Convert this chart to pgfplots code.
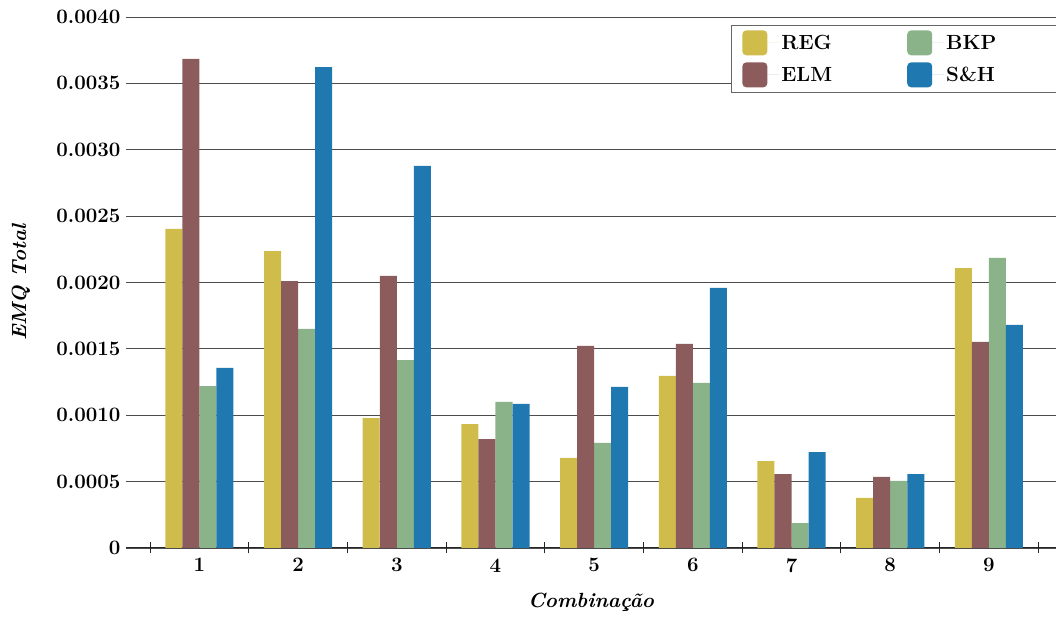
\documentclass[border=0pt]{standalone}
\usepackage{fontspec}
\usepackage{pgfplots}
\pgfplotsset{compat=1.18}
\definecolor{cREG}{RGB}{207,188,74}
\definecolor{cELM}{RGB}{140,91,91}
\definecolor{cBKP}{RGB}{138,179,138}
\definecolor{cSH}{RGB}{31,120,176}
\newcommand\ff{\fontsize{20.5}{24}\selectfont\bfseries}
\pgfplotsset{mylegend/.style={legend image code/.code={\fill[##1, rounded corners=4pt] (0pt,-12.5pt) rectangle (25pt,12.5pt); \path (0pt,0pt) -- (37pt,0pt);}}}
\begin{document}
\begin{tikzpicture}
\begin{axis}[
  name=ax, scale only axis, width=930pt, height=531pt,
  xmin=0.256, xmax=9.68, ymin=0, ymax=0.004,
  ybar, bar width=0.1726,
  axis x line=bottom, axis y line=left,
  axis line style={-, line width=1pt, black!85},
  y axis line style={draw=none},
  ytick={0,0.0005,0.001,0.0015,0.002,0.0025,0.003,0.0035,0.004},
  yticklabels={\textbf{0},\textbf{0.0005},\textbf{0.0010},\textbf{0.0015},\textbf{0.0020},\textbf{0.0025},\textbf{0.0030},\textbf{0.0035},\textbf{0.0040}},
  scaled y ticks=false,
  xtick={1,2,3,4,5,6,7,8,9},
  xticklabels={\textbf{1},\textbf{2},\textbf{3},\textbf{4},\textbf{5},\textbf{6},\textbf{7},\textbf{8},\textbf{9}},
  minor xtick={0.5,1.5,2.5,3.5,4.5,5.5,6.5,7.5,8.5,9.5},
  major tick length=0pt, minor tick length=11pt, tick align=center,
  minor tick style={line width=1pt, black!85},
  ytick style={draw=none},
  ymajorgrids, grid style={black!70, line width=0.9pt},
  tick label style={font=\ff},
  yticklabel style={xshift=-2pt},
  xticklabel style={yshift=-7pt},
  ylabel={\ff\itshape EMQ Total},
  xlabel={\ff\itshape Combinação},
  ylabel style={at={(axis description cs:-0.113,0.5)}, anchor=center, rotate=0},
  xlabel style={at={(axis description cs:0.5,0)}, anchor=center, yshift=-54pt},
  legend columns=2,
  legend style={at={(rel axis cs:0.6505,0.985)}, anchor=north west,
    draw=black!60, line width=0.8pt, font=\ff, inner xsep=11pt, inner ysep=5pt,
    /tikz/column 2/.style={column sep=73pt},
    /tikz/row sep=7pt,
    cells={anchor=west}},
]
\addplot[fill=cREG, draw=none, bar shift=-0.259, mylegend] coordinates {
(1,0.002403) (2,0.002237) (3,0.000979) (4,0.000934) (5,0.000678) (6,0.001296) (7,0.000655) (8,0.000377) (9,0.002109)};
\addlegendentry{REG}
\addplot[fill=cBKP, draw=none, bar shift=0.0863, mylegend] coordinates {
(1,0.001220) (2,0.001650) (3,0.001416) (4,0.001100) (5,0.000791) (6,0.001243) (7,0.000188) (8,0.000505) (9,0.002185)};
\addlegendentry{\makebox[140pt][l]{BKP}}
\addplot[fill=cELM, draw=none, bar shift=-0.0863, mylegend] coordinates {
(1,0.003684) (2,0.002011) (3,0.002049) (4,0.000821) (5,0.001522) (6,0.001537) (7,0.000557) (8,0.000535) (9,0.001552)};
\addlegendentry{ELM}
\addplot[fill=cSH, draw=none, bar shift=0.259, mylegend] coordinates {
(1,0.001356) (2,0.003623) (3,0.002878) (4,0.001085) (5,0.001213) (6,0.001959) (7,0.000723) (8,0.000557) (9,0.001680)};
\addlegendentry{\makebox[140pt][l]{S\&H}}
\end{axis}
\pgfresetboundingbox
\path ([shift={(-126pt,-69pt)}]ax.south west) rectangle ([shift={(0pt,17pt)}]ax.north east);
\end{tikzpicture}
\end{document}
